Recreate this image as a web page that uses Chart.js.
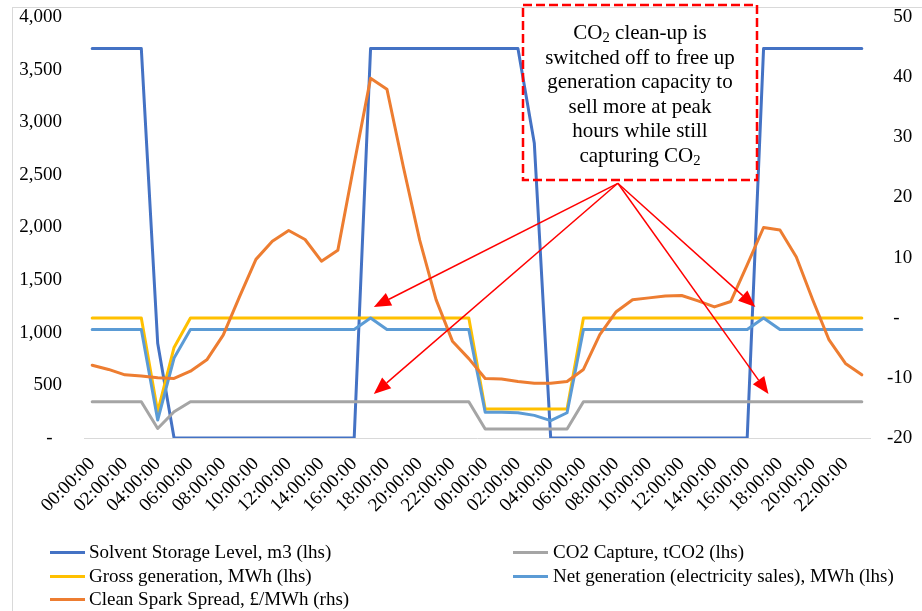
<!DOCTYPE html>
<html>
<head>
<meta charset="utf-8">
<script src="https://cdn.jsdelivr.net/npm/chart.js@4.4.1/dist/chart.umd.min.js"></script>
<style>
  body { margin: 0; background: #fff; }
  #wrap { position: relative; width: 922px; height: 611px; overflow: hidden; font-family: "Liberation Serif", "Times New Roman", serif; color: #000; }
  #frame { position: absolute; left: 12px; top: 7px; width: 940px; height: 640px; border: 1px solid #d9d9d9; }
  canvas { position: absolute; left: 0; top: 0; }
  #note { position: absolute; left: 523px; top: 5px; width: 234px; text-align: center; font-size: 21px; line-height: 24.6px; padding-top: 15px; }
  #note sub { font-size: 0.7em; line-height: 0; vertical-align: -0.2em; }
  .lg { position: absolute; height: 20px; font-size: 19px; line-height: 20px; white-space: nowrap; }
  .lg i { position: absolute; left: 0; top: 9px; width: 35px; height: 3px; }
  .lg span { position: absolute; top: 0; }
</style>
</head>
<body>
<div id="wrap">
  <div id="frame"></div>
  <canvas id="chart" width="922" height="611"></canvas>
  <div id="note">CO<sub>2</sub> clean-up is<br>switched off to free up<br>generation capacity to<br>sell more at peak<br>hours while still<br>capturing CO<sub>2</sub></div>
  <div id="legend"></div>
</div>
<script>
// hourly categories over two days
const hours = ['00:00:00', '01:00:00', '02:00:00', '03:00:00', '04:00:00', '05:00:00',
    '06:00:00', '07:00:00', '08:00:00', '09:00:00', '10:00:00', '11:00:00',
    '12:00:00', '13:00:00', '14:00:00', '15:00:00', '16:00:00', '17:00:00',
    '18:00:00', '19:00:00', '20:00:00', '21:00:00', '22:00:00', '23:00:00'];
const categories = hours.concat(hours);

const seriesNames = [
    'Solvent Storage Level, m3 (lhs)',
    'CO2 Capture, tCO2 (lhs)',
    'Gross generation, MWh (lhs)',
    'Net generation (electricity sales), MWh (lhs)',
    'Clean Spark Spread, £/MWh (rhs)'
];
const seriesColors = ['#4472C4', '#A5A5A5', '#FFC000', '#5B9BD5', '#ED7D31'];

const solventStorage = [3700, 3700, 3700, 3700, 900, 0, 0, 0, 0, 0, 0, 0,
    0, 0, 0, 0, 0, 3700, 3700, 3700, 3700, 3700, 3700, 3700,
    3700, 3700, 3700, 2800, 0, 0, 0, 0, 0, 0, 0, 0,
    0, 0, 0, 0, 0, 3700, 3700, 3700, 3700, 3700, 3700, 3700];
const co2Capture = [345, 345, 345, 345, 90, 250, 345, 345, 345, 345, 345, 345,
    345, 345, 345, 345, 345, 345, 345, 345, 345, 345, 345, 345,
    85, 85, 85, 85, 85, 85, 345, 345, 345, 345, 345, 345,
    345, 345, 345, 345, 345, 345, 345, 345, 345, 345, 345, 345];
const grossGeneration = [1140, 1140, 1140, 1140, 250, 860, 1140, 1140, 1140, 1140, 1140, 1140,
    1140, 1140, 1140, 1140, 1140, 1140, 1140, 1140, 1140, 1140, 1140, 1140,
    275, 275, 275, 275, 275, 275, 1140, 1140, 1140, 1140, 1140, 1140,
    1140, 1140, 1140, 1140, 1140, 1140, 1140, 1140, 1140, 1140, 1140, 1140];
const netGeneration = [1030, 1030, 1030, 1030, 170, 760, 1030, 1030, 1030, 1030, 1030, 1030,
    1030, 1030, 1030, 1030, 1030, 1140, 1030, 1030, 1030, 1030, 1030, 1030,
    245, 245, 240, 215, 165, 240, 1030, 1030, 1030, 1030, 1030, 1030,
    1030, 1030, 1030, 1030, 1030, 1140, 1030, 1030, 1030, 1030, 1030, 1030];
const cleanSparkSpread = [-7.9, -8.6, -9.5, -9.7, -10.0, -10.1, -8.9, -7.0, -2.9, 3.5, 9.7, 12.7,
    14.5, 13.0, 9.4, 11.2, 25.6, 39.8, 38.0, 25.1, 12.9, 3.0, -3.9, -6.8,
    -10.1, -10.2, -10.6, -10.9, -10.9, -10.6, -8.6, -2.8, 1.0, 3.0, 3.3, 3.6,
    3.7, 2.8, 1.8, 2.7, 8.8, 15.0, 14.6, 10.1, 3.0, -3.7, -7.6, -9.5];

// callout arrows, in (category index, lhs value)
const arrowFrom = { x: 32.1, y: 2420 };
const arrowTo = [
    { x: 17.2, y: 1245 },
    { x: 17.2, y: 418 },
    { x: 40.5, y: 1245 },
    { x: 41.3, y: 418 }
];

const font = { family: '"Liberation Serif", "Times New Roman", serif', size: 19 };

const calloutPlugin = {
    id: 'callout',
    afterDraw(chart) {
        const ctx = chart.ctx;
        const xs = chart.scales.x, ys = chart.scales.y;
        ctx.save();
        ctx.strokeStyle = '#FF0000';
        ctx.lineWidth = 2.5;
        ctx.setLineDash([9, 4]);
        ctx.strokeRect(523, 5, 234, 175);
        ctx.setLineDash([]);

        const ax = xs.getPixelForValue(arrowFrom.x);
        const ay = ys.getPixelForValue(arrowFrom.y);
        ctx.fillStyle = '#FF0000';
        ctx.lineWidth = 1.5;
        arrowTo.forEach(t => {
            const tx = xs.getPixelForValue(t.x);
            const ty = ys.getPixelForValue(t.y);
            const ang = Math.atan2(ty - ay, tx - ax);
            const len = 17, half = 7;
            const bx = tx - len * Math.cos(ang), by = ty - len * Math.sin(ang);
            ctx.beginPath();
            ctx.moveTo(ax, ay);
            ctx.lineTo(bx, by);
            ctx.stroke();
            ctx.beginPath();
            ctx.moveTo(tx, ty);
            ctx.lineTo(bx + half * Math.sin(ang), by - half * Math.cos(ang));
            ctx.lineTo(bx - half * Math.sin(ang), by + half * Math.cos(ang));
            ctx.closePath();
            ctx.fill();
        });
        ctx.restore();
    }
};

const seriesData = [solventStorage, co2Capture, grossGeneration, netGeneration, cleanSparkSpread];

const ctx = document.getElementById('chart').getContext('2d');
const chart = new Chart(ctx, {
    type: 'line',
    data: {
        labels: categories,
        datasets: seriesData.map((d, i) => ({
            label: seriesNames[i],
            data: d,
            yAxisID: i === 4 ? 'y2' : 'y',
            borderColor: seriesColors[i],
            backgroundColor: seriesColors[i],
            borderWidth: 3,
            pointRadius: 0,
            tension: 0,
            fill: false,
            borderCapStyle: 'round',
            borderJoinStyle: 'round',
            order: 5 - i
        }))
    },
    options: {
        responsive: false,
        animation: false,
        events: [],
        layout: { padding: { top: 17, bottom: 0, left: 0, right: 0 } },
        plugins: {
            legend: { display: false },
            tooltip: { enabled: false }
        },
        scales: {
            x: {
                offset: true,
                grid: { display: false, drawTicks: true, tickLength: 15 },
                border: { display: true, color: '#D9D9D9', width: 1 },
                ticks: {
                    autoSkip: false,
                    minRotation: 45,
                    maxRotation: 45,
                    padding: 0,
                    color: '#000',
                    font: font,
                    callback: (v, i) => i % 2 === 0 ? categories[i] : ''
                },
                afterFit: s => { s.height = 173; }
            },
            y: {
                position: 'left',
                min: 0,
                max: 4000,
                grid: { display: false, drawTicks: true, tickLength: 22 },
                border: { display: false },
                ticks: {
                    stepSize: 500,
                    padding: 0,
                    color: '#000',
                    font: font,
                    callback: v => v === 0 ? '-\u2007' : v.toLocaleString('en-US')
                },
                afterFit: s => { s.width = 84; }
            },
            y2: {
                position: 'right',
                min: -20,
                max: 50,
                grid: { display: false, drawTicks: true, tickLength: 17 },
                border: { display: false },
                ticks: {
                    stepSize: 10,
                    padding: 0,
                    color: '#000',
                    font: font,
                    callback: v => v === 0 ? '\u2004-' : (v > 0 ? '\u2004' + v : String(v))
                },
                afterFit: s => { s.width = 52; }
            }
        }
    },
    plugins: [calloutPlugin]
});

// legend, two columns like the original
const legendPos = [
    { left: 50, top: 542, text: 39 },
    { left: 513, top: 542, text: 40 },
    { left: 50, top: 566, text: 39 },
    { left: 513, top: 566, text: 40 },
    { left: 50, top: 589, text: 39 }
];
let legendHtml = '';
seriesNames.forEach((name, i) => {
    const p = legendPos[i];
    legendHtml += `<div class="lg" style="left:${p.left}px;top:${p.top}px">
        <i style="background:${seriesColors[i]}"></i><span style="left:${p.text}px">${name}</span>
    </div>`;
});
document.getElementById('legend').innerHTML = legendHtml;
</script>
</body>
</html>
